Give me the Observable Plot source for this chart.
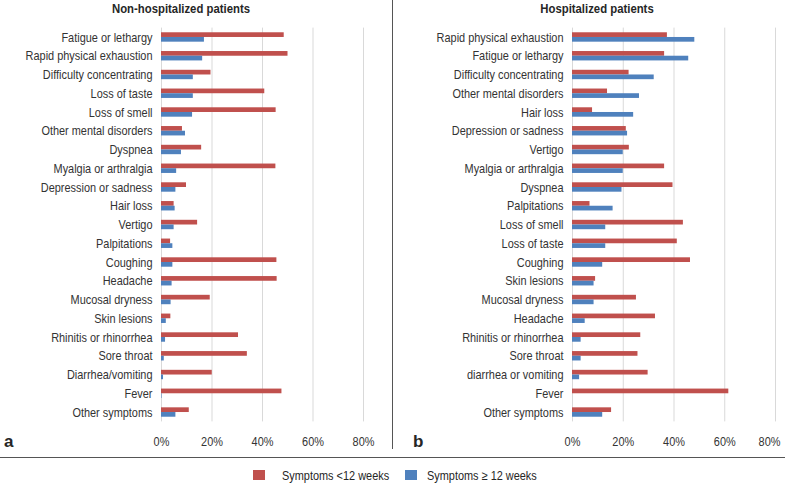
<!DOCTYPE html>
<html><head><meta charset="utf-8">
<script src="https://cdn.jsdelivr.net/npm/d3@7"></script>
<script src="https://cdn.jsdelivr.net/npm/@observablehq/plot@0.6"></script>
<style>
body{margin:0;background:#fff;font-family:"Liberation Sans",Arial,sans-serif;color:#262626;}
#wrap{position:relative;width:785px;height:483px;overflow:hidden;}
.abs{position:absolute;}
.title{font-weight:bold;font-size:13.5px;transform:translate(-50%,-50%) scaleX(0.84);white-space:nowrap;}
.panel{font-weight:bold;font-size:17px;transform:translateY(-50%);}
.leg{font-size:13px;transform-origin:0 50%;transform:translateY(-50%) scaleX(0.84);white-space:nowrap;}
.sw{width:12px;height:10px;}
svg{display:block;overflow:visible;}
</style></head><body>
<div id="wrap">
  <div id="left" class="abs" style="left:0;top:0"></div>
  <div id="right" class="abs" style="left:392px;top:0"></div>
  <div class="abs title" style="left:181px;top:8px">Non-hospitalized patients</div>
  <div class="abs title" style="left:597px;top:8px">Hospitalized patients</div>
  <div class="abs panel" style="left:4px;top:442px">a</div>
  <div class="abs panel" style="left:413px;top:442px">b</div>
  <div class="abs" style="left:392px;top:0;width:1px;height:449px;background:#555"></div>
  <div class="abs" style="left:0;top:457px;width:785px;height:1px;background:#555"></div>
  <div class="abs sw" style="left:253px;top:470px;background:#c0504d"></div>
  <div class="abs leg" style="left:282px;top:475px">Symptoms &lt;12 weeks</div>
  <div class="abs sw" style="left:405px;top:470px;background:#4f81bd"></div>
  <div class="abs leg" style="left:427px;top:475px">Symptoms ≥ 12 weeks</div>
</div>
<script>
// ---- Data (percent) ----
const nonHospCategories = ["Fatigue or lethargy","Rapid physical exhaustion","Difficulty concentrating","Loss of taste","Loss of smell","Other mental disorders","Dyspnea","Myalgia or arthralgia","Depression or sadness","Hair loss","Vertigo","Palpitations","Coughing","Headache","Mucosal dryness","Skin lesions","Rhinitis or rhinorrhea","Sore throat","Diarrhea/vomiting","Fever","Other symptoms"];
const nonHospShort = [48.6,50.1,19.6,40.9,45.4,8.3,15.9,45.3,9.9,5.0,14.3,3.6,45.7,45.8,19.3,3.7,30.5,34.0,20.1,47.7,11.0];
const nonHospLong  = [17.0,16.3,12.6,12.6,12.3,9.5,7.9,6.0,5.7,5.4,5.0,4.5,4.5,4.2,3.8,1.9,1.6,1.1,0.8,0.2,5.7];

const hospCategories = ["Rapid physical exhaustion","Fatigue or lethargy","Difficulty concentrating","Other mental disorders","Hair loss","Depression or sadness","Vertigo","Myalgia or arthralgia","Dyspnea","Palpitations","Loss of smell","Loss of taste","Coughing","Skin lesions","Mucosal dryness","Headache","Rhinitis or rhinorrhea","Sore throat","diarrhea or vomiting","Fever","Other symptoms"];
const hospShort = [37.4,36.3,22.3,13.8,7.9,21.2,22.4,36.3,39.6,6.9,43.7,41.3,46.5,9.1,25.2,32.7,26.9,25.8,29.8,61.6,15.4];
const hospLong  = [48.2,45.8,32.2,26.4,24.1,21.7,20.0,20.0,19.5,16.0,13.1,13.1,11.9,8.5,8.5,5.0,3.4,3.4,2.8,0.0,11.9];

const xTicks = [0,20,40,60,80];
const seriesColors = {short:"#c0504d", long:"#4f81bd"};

function panel(cats, shortVals, longVals, width, mLeft, mRight) {
  const rows = cats.map((c,i)=>({cat:c, short:shortVals[i], long:longVals[i]}));
  const bandHalf = 9.375, barH = 4.7;
  return Plot.plot({
    width, height: 450,
    marginLeft: mLeft, marginRight: mRight, marginTop: 27.6, marginBottom: 28.6,
    style: {fontFamily: '"Liberation Sans",Arial,sans-serif', fontSize: "13px", color: "#333", background: "transparent"},
    x: {domain: [0,80], ticks: xTicks, tickFormat: d => d + "%", tickSize: 0, tickPadding: 15, label: null},
    y: {domain: cats, padding: 0, round: false, tickSize: 0, tickPadding: 9, label: null},
    marks: [
      Plot.ruleX(xTicks, {stroke: "#d9d9d9", strokeWidth: 1}),
      Plot.barX(rows, {x: "short", y: "cat", fill: seriesColors.short, insetTop: bandHalf - barH, insetBottom: bandHalf}),
      Plot.barX(rows, {x: "long", y: "cat", fill: seriesColors.long, insetTop: bandHalf, insetBottom: bandHalf - barH})
    ]
  });
}

function condense(svg, f) {
  svg.querySelectorAll("text").forEach(t => {
    const L = t.getComputedTextLength();
    if (L > 0) {
      t.setAttribute("textLength", (L * f).toFixed(2));
      t.setAttribute("lengthAdjust", "spacingAndGlyphs");
    }
  });
}

const leftSvg = panel(nonHospCategories, nonHospShort, nonHospLong, 392, 161, 29);
document.getElementById("left").append(leftSvg);
condense(leftSvg, 0.84);
const rightSvg = panel(hospCategories, hospShort, hospLong, 393, 180, 10);
document.getElementById("right").append(rightSvg);
condense(rightSvg, 0.84);
// keep the last tick label of the right panel inside the page edge
rightSvg.querySelectorAll("text").forEach(t => { if (t.textContent === "80%") t.setAttribute("dx", "-6"); });
</script>
</body></html>
